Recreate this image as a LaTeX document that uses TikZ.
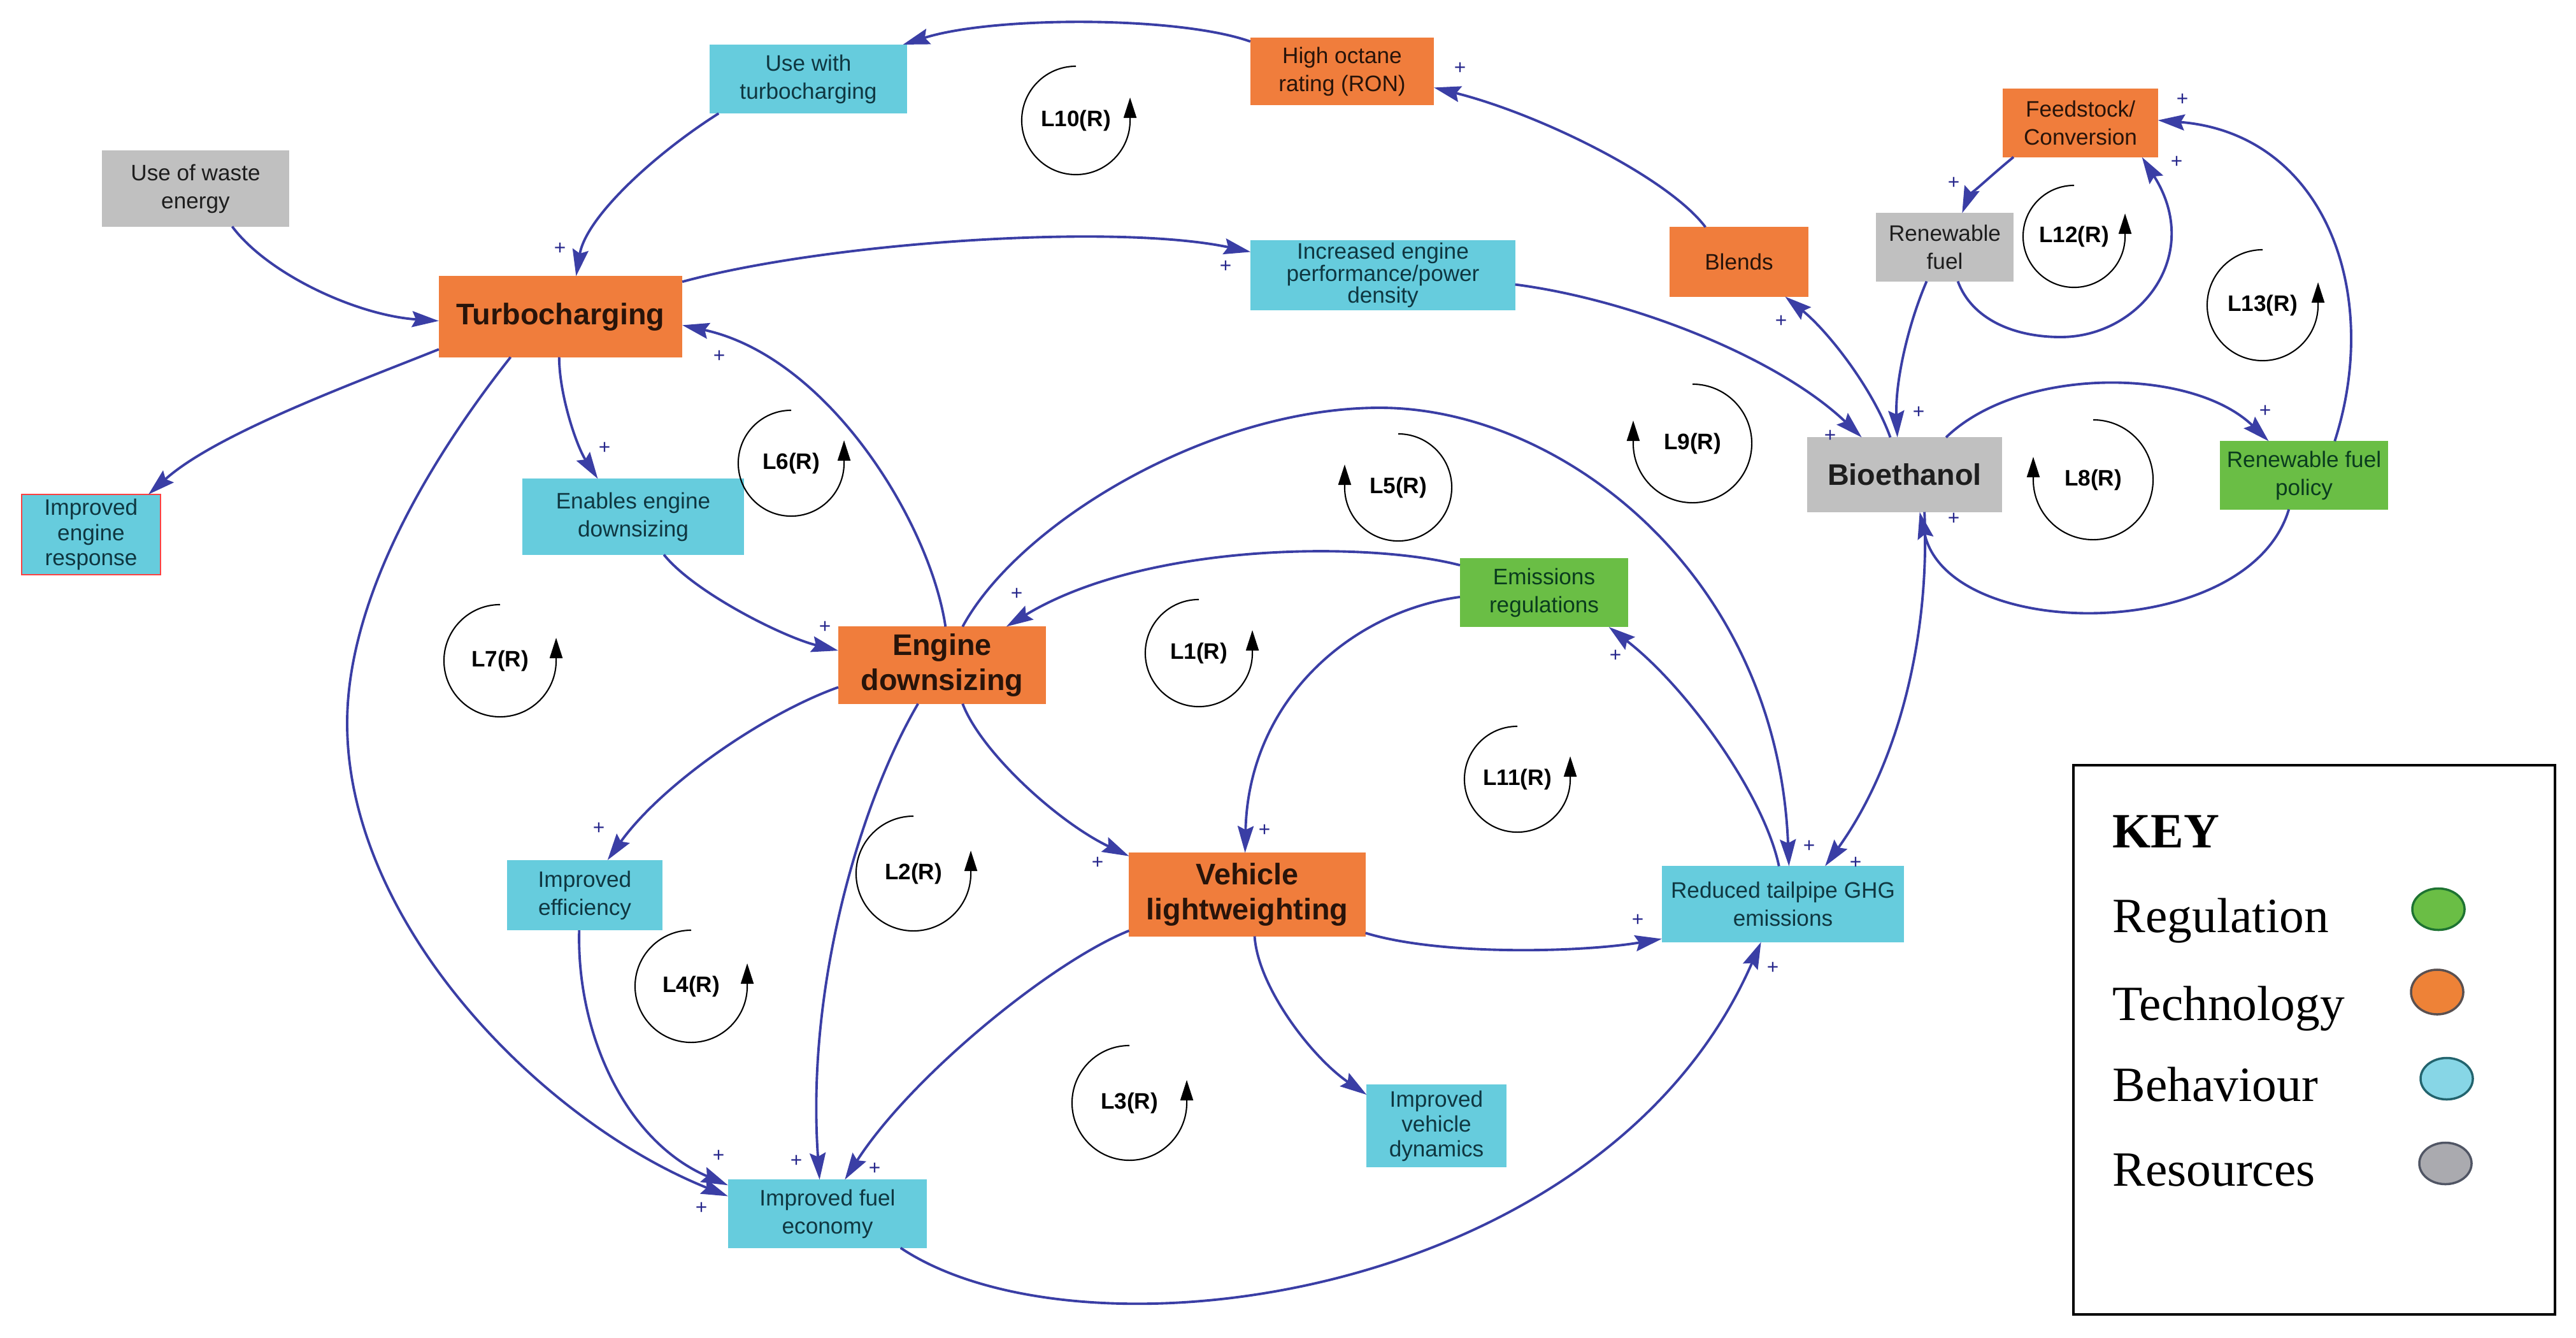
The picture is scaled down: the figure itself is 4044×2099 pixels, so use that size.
\documentclass[tikz,border=0pt]{standalone}
\usepackage{fontspec}
\setmainfont{Liberation Serif}
\newfontfamily\diagfont{Liberation Sans}
\usetikzlibrary{shapes.geometric,arrows.meta}
\definecolor{cboxc}{RGB}{102,204,221}
\definecolor{oboxc}{RGB}{240,125,60}
\definecolor{gboxc}{RGB}{106,190,69}
\definecolor{grboxc}{RGB}{192,192,192}
\definecolor{arrc}{RGB}{58,62,165}
\definecolor{plusc}{RGB}{40,40,140}
\definecolor{ctxt}{RGB}{15,55,65}
\definecolor{otxt}{RGB}{40,20,10}
\definecolor{gtxt}{RGB}{10,60,30}
\definecolor{rtxt}{RGB}{30,30,30}
\tikzset{
 nbox/.style={rectangle, inner sep=0pt, outer sep=0pt, align=center, font=\diagfont\fontsize{10}{12.5}\selectfont},
 cbox/.style={nbox, fill=cboxc, text=ctxt},
 obox/.style={nbox, fill=oboxc, text=otxt},
 gbox/.style={nbox, fill=gboxc, text=gtxt},
 rbox/.style={nbox, fill=grboxc, text=rtxt},
 bigtxt/.style={font=\diagfont\bfseries\fontsize{13.3}{15.9}\selectfont},
 arr/.style={draw=arrc, line width=1.1pt, -{Stealth[length=0.42cm,width=0.25cm,inset=0.06cm]}},
 plussign/.style={font=\diagfont\fontsize{9}{9}\selectfont, text=plusc, inner sep=0pt},
 looptxt/.style={font=\diagfont\bfseries\fontsize{10}{12}\selectfont, inner sep=0pt},
 loopline/.style={line width=0.6pt, -{Triangle[length=0.32cm,width=0.2cm]}},
 legtxt/.style={anchor=base west, inner sep=0pt, font=\fontsize{22}{26}\selectfont},
 legdot/.style={ellipse, inner sep=0pt, line width=1pt, minimum width=0.82cm, minimum height=0.65cm},
}
\newcommand\loopR[5]{\node[looptxt] (#1) at (#2,#3) {#5};
 \draw[loopline] ([shift={(90:#4)}]#1.center) arc[start angle=90,end angle=360,radius=#4] -- ++(0,0.36cm);}
\newcommand\loopL[5]{\node[looptxt] (#1) at (#2,#3) {#5};
 \draw[loopline] ([shift={(90:#4)}]#1.center) arc[start angle=90,end angle=-180,radius=#4] -- ++(0,0.36cm);}
\begin{document}
\begin{tikzpicture}[x=0.01cm,y=-0.01cm]
\useasboundingbox (0,0) rectangle (4044,2099);
% nodes
\node[cbox, minimum width=3.10cm, minimum height=1.08cm] (uwt) at (1269,124) {Use with\\turbocharging};
\node[obox, minimum width=2.88cm, minimum height=1.06cm] (hor) at (2107,112) {High octane\\rating (RON)};
\node[rbox, minimum width=2.94cm, minimum height=1.19cm] (uwe) at (307,296) {Use of waste\\energy};
\node[obox, bigtxt, minimum width=3.82cm, minimum height=1.27cm] (turbo) at (880,497) {Turbocharging};
\node[cbox, font=\diagfont\fontsize{10}{9.8}\selectfont, minimum width=4.15cm, minimum height=1.10cm] (iep) at (2171,432) {Increased engine\\performance/power\\density};
\node[obox, minimum width=2.17cm, minimum height=1.09cm] (blends) at (2730,411) {Blends};
\node[obox, minimum width=2.43cm, minimum height=1.07cm] (feed) at (3266,193) {Feedstock/\\Conversion};
\node[rbox, minimum width=2.16cm, minimum height=1.07cm] (renfuel) at (3053,388) {Renewable\\fuel};
\node[rbox, bigtxt, minimum width=3.05cm, minimum height=1.17cm] (bio) at (2990,745) {Bioethanol};
\node[gbox, minimum width=2.63cm, minimum height=1.07cm] (rfp) at (3617,746) {Renewable fuel\\policy};
\node[cbox, draw=red!75, line width=0.6pt, font=\diagfont\fontsize{10}{11.3}\selectfont, minimum width=2.18cm, minimum height=1.26cm] (ier) at (143,839) {Improved\\engine\\response};
\node[cbox, minimum width=3.48cm, minimum height=1.19cm] (eed) at (994,811) {Enables engine\\downsizing};
\node[obox, bigtxt, minimum width=3.26cm, minimum height=1.21cm] (ed) at (1479,1044) {Engine\\downsizing};
\node[gbox, minimum width=2.64cm, minimum height=1.08cm] (er) at (2424,930) {Emissions\\regulations};
\node[obox, bigtxt, minimum width=3.71cm, minimum height=1.31cm] (vl) at (1958,1404) {Vehicle\\lightweighting};
\node[cbox, minimum width=3.80cm, minimum height=1.19cm] (rt) at (2799,1419) {Reduced tailpipe GHG\\emissions};
\node[cbox, font=\diagfont\fontsize{10}{11.1}\selectfont, minimum width=2.19cm, minimum height=1.29cm] (ivd) at (2255,1767) {Improved\\vehicle\\dynamics};
\node[cbox, minimum width=2.44cm, minimum height=1.10cm] (ieff) at (918,1405) {Improved\\efficiency};
\node[cbox, minimum width=3.12cm, minimum height=1.07cm] (ife) at (1299,1905) {Improved fuel\\economy};
% connectors
\draw[arr] (hor.162) .. controls (1850,25) and (1560,25) .. (uwt.20);
\draw[arr] (uwt.201) .. controls (1030,240) and (920,340) .. (turbo.69);
\draw[arr] (uwe.314) .. controls (420,430) and (560,495) .. (turbo.182);
\draw[arr] (turbo.195) .. controls (560,600) and (340,680) .. (ier.35);
\draw[arr] (turbo.16) .. controls (1300,380) and (1750,350) .. (iep.170);
\draw[arr] (iep.356) .. controls (2560,470) and (2790,560) .. (bio.139);
\draw[arr] (bio.111) .. controls (2940,610) and (2870,520) .. (blends.323);
\draw[arr] (blends.134) .. controls (2620,280) and (2420,180) .. (hor.350);
\draw[arr] (feed.207) .. controls (3120,280) and (3090,310) .. (renfuel.63);
\draw[arr] (renfuel.291) .. controls (3095,500) and (3160,529) .. (3235,529) .. controls (3360,529) and (3460,400) .. (feed.331);
\draw[arr] (renfuel.242) .. controls (2995,510) and (2975,600) .. (bio.101);
\draw[arr] (bio.42) .. controls (3170,575) and (3440,575) .. (rfp.136);
\draw[arr] (rfp.48) .. controls (3740,460) and (3650,210) .. (feed.2);
\draw[arr] (rfp.246) .. controls (3530,1010) and (3060,1010) .. (bio.292);
\draw[arr] (bio.298) .. controls (3030,1000) and (2980,1200) .. (rt.42);
\draw[arr] (turbo.268) .. controls (878,620) and (905,700) .. (eed.133);
\draw[arr] (eed.309) .. controls (1090,930) and (1230,1000) .. (ed.172);
\draw[arr] (ed.85) .. controls (1460,820) and (1300,560) .. (turbo.356);
\draw[arr] (turbo.219) .. controls (660,740) and (545,950) .. (545,1135) .. controls (545,1450) and (850,1760) .. (ife.170);
\draw[arr] (ed.192) .. controls (1200,1120) and (1040,1230) .. (ieff.57);
\draw[arr] (ieff.261) .. controls (905,1620) and (980,1790) .. (ife.164);
\draw[arr] (ed.238) .. controls (1350,1260) and (1265,1550) .. (ife.103);
\draw[arr] (vl.197) .. controls (1650,1510) and (1430,1690) .. (ife.63);
\draw[arr] (ife.335) .. controls (1700,2150) and (2520,2040) .. (rt.240);
\draw[arr] (ed.298) .. controls (1540,1180) and (1660,1290) .. (vl.162);
\draw[arr] (vl.342) .. controls (2260,1500) and (2480,1495) .. (rt.196);
\draw[arr] (vl.280) .. controls (1975,1550) and (2060,1660) .. (ivd.156);
\draw[arr] (er.162) .. controls (2150,850) and (1800,850) .. (ed.31);
\draw[arr] (er.183) .. controls (2120,960) and (1960,1100) .. (vl.93);
\draw[arr] (rt.96) .. controls (2770,1250) and (2650,1080) .. (er.332);
\draw[arr] (ed.62) .. controls (1600,820) and (1900,640) .. (2166,640) .. controls (2450,640) and (2790,900) .. (rt.81);
% plus signs
\node[plussign] (p1) at (879,390) {+};
\node[plussign] (p2) at (1924,418) {+};
\node[plussign] (p3) at (2873,684) {+};
\node[plussign] (p4) at (2796,504) {+};
\node[plussign] (p5) at (2292,107) {+};
\node[plussign] (p6) at (3067,287) {+};
\node[plussign] (p7) at (3417,254) {+};
\node[plussign] (p8) at (3012,647) {+};
\node[plussign] (p9) at (3556,645) {+};
\node[plussign] (p10) at (3426,156) {+};
\node[plussign] (p11) at (3067,814) {+};
\node[plussign] (p12) at (2913,1354) {+};
\node[plussign] (p13) at (949,703) {+};
\node[plussign] (p14) at (1295,984) {+};
\node[plussign] (p15) at (1129,559) {+};
\node[plussign] (p16) at (1101,1896) {+};
\node[plussign] (p17) at (940,1300) {+};
\node[plussign] (p18) at (1128,1814) {+};
\node[plussign] (p19) at (1250,1822) {+};
\node[plussign] (p20) at (1373,1834) {+};
\node[plussign] (p21) at (2783,1519) {+};
\node[plussign] (p22) at (1723,1354) {+};
\node[plussign] (p23) at (2571,1444) {+};
\node[plussign] (p24) at (1596,932) {+};
\node[plussign] (p25) at (1985,1303) {+};
\node[plussign] (p26) at (2536,1029) {+};
\node[plussign] (p27) at (2840,1328) {+};
% loops
\loopR{l10}{1689}{189}{0.85cm}{L10(R)}
\loopR{l6}{1242}{727}{0.83cm}{L6(R)}
\loopR{l7}{785}{1037}{0.88cm}{L7(R)}
\loopR{l4}{1085}{1548}{0.88cm}{L4(R)}
\loopR{l2}{1434}{1371}{0.90cm}{L2(R)}
\loopR{l1}{1882}{1025}{0.84cm}{L1(R)}
\loopR{l3}{1773}{1731}{0.90cm}{L3(R)}
\loopR{l11}{2382}{1223}{0.83cm}{L11(R)}
\loopL{l5}{2195}{765}{0.84cm}{L5(R)}
\loopL{l9}{2657}{696}{0.93cm}{L9(R)}
\loopR{l12}{3256}{371}{0.80cm}{L12(R)}
\loopR{l13}{3552}{479}{0.87cm}{L13(R)}
\loopL{l8}{3286}{753}{0.94cm}{L8(R)}
% key
\node[draw, line width=1.1pt, minimum width=7.56cm, minimum height=8.62cm, inner sep=0pt] (keybox) at (3633,1632) {};
\node[legtxt, font=\bfseries\fontsize{22}{26}\selectfont] (keyt) at (3316,1330) {KEY};
\node[legtxt] (kregt) at (3316,1463) {Regulation};
\node[legtxt] (ktect) at (3316,1601) {Technology};
\node[legtxt] (kbeht) at (3316,1728) {Behaviour};
\node[legtxt] (krest) at (3316,1861) {Resources};
\node[legdot, fill=gboxc, draw={rgb,255:red,30;green,115;blue,50}] (kreg) at (3828,1427) {};
\node[legdot, fill={rgb,255:red,238;green,130;blue,55}, draw={rgb,255:red,90;green,80;blue,80}, minimum height=0.70cm] (ktec) at (3826,1557) {};
\node[legdot, fill={rgb,255:red,135;green,214;blue,230}, draw={rgb,255:red,35;green,100;blue,110}] (kbeh) at (3841,1693) {};
\node[legdot, fill={rgb,255:red,170;green,170;blue,175}, draw={rgb,255:red,80;green,85;blue,100}] (kres) at (3839,1826) {};
\end{tikzpicture}
\end{document}
